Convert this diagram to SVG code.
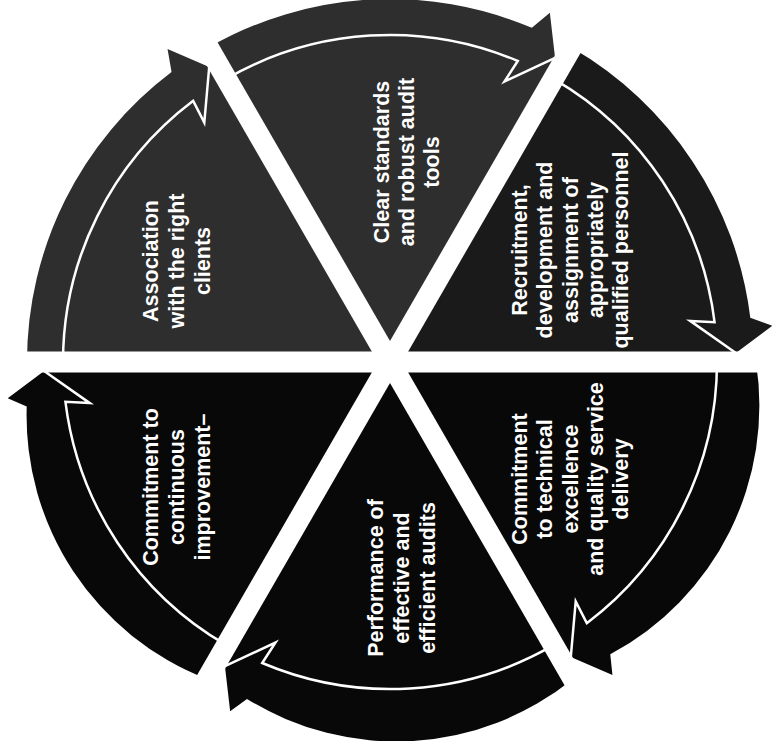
<svg xmlns="http://www.w3.org/2000/svg" width="773" height="741" viewBox="0 0 773 741">
<style>
.up{fill:#2e2e2e}
.mid{fill:#1a1a1a}
.low{fill:#080808}
.edge{fill:none;stroke:#fff;stroke-width:2.5;stroke-linejoin:miter}
.gap{stroke:#fff;stroke-width:21;stroke-linecap:butt}
.lbl{font-family:"Liberation Sans",Arial,sans-serif;font-weight:bold;font-size:21.5px;fill:#fff;text-anchor:middle}
</style>
<defs>
<path id="sil" d="M0,0 L181.5,-314.4 A363,363 0 0 1 360.3,-44.24 L382.3,-36.14 L345.88,-9.06 Z"/>
<path id="silL" d="M0,0 L183,-316.97 A282,282 0 0 1 363.27,-44.6 L382.3,-36.14 L345.88,-9.06 Z"/>
<path id="edge" d="M163.5,-283.19 A327,327 0 0 1 324.56,-39.85 L300.2,-41.12 L345.88,-9.06"/>
</defs>
<rect width="773" height="741" fill="#fff"/>

<g id="node-association">
<g transform="translate(390,362) rotate(-120)"><use href="#sil" class="up"/><use href="#edge" class="edge"/></g>
<text class="lbl" transform="translate(158,261) rotate(-90)"><tspan x="0" y="0">Association</tspan><tspan x="0" y="26">with the right</tspan><tspan x="0" y="52">clients</tspan></text>
</g>

<g id="node-standards">
<g transform="translate(390,362) rotate(-60)"><use href="#sil" class="up"/><use href="#edge" class="edge"/></g>
<text class="lbl" transform="translate(389,162) rotate(-90)"><tspan x="0" y="0">Clear standards</tspan><tspan x="0" y="25">and robust audit</tspan><tspan x="0" y="50">tools</tspan></text>
</g>

<g id="node-recruitment">
<g transform="translate(390,362)"><use href="#sil" class="mid"/><use href="#edge" class="edge"/></g>
<text class="lbl" transform="translate(527,250) rotate(-90)"><tspan x="0" y="0">Recruitment,</tspan><tspan x="0" y="25.3">development and</tspan><tspan x="0" y="50.6">assignment of</tspan><tspan x="0" y="75.9">appropriately</tspan><tspan x="0" y="101.2">qualified personnel</tspan></text>
</g>

<g id="node-technical">
<g transform="translate(390,362) rotate(60)"><use href="#silL" class="low"/><use href="#edge" class="edge"/></g>
<text class="lbl" transform="translate(527,479) rotate(-90)"><tspan x="0" y="0">Commitment</tspan><tspan x="0" y="25.3">to technical</tspan><tspan x="0" y="50.6">excellence</tspan><tspan x="0" y="75.9">and quality service</tspan><tspan x="0" y="101.2">delivery</tspan></text>
</g>

<g id="node-performance">
<g transform="translate(390,362) rotate(120)"><use href="#silL" class="low"/><use href="#edge" class="edge"/></g>
<text class="lbl" transform="translate(383,578) rotate(-90)"><tspan x="0" y="0">Performance of</tspan><tspan x="0" y="26">effective and</tspan><tspan x="0" y="52">efficient audits</tspan></text>
</g>

<g id="node-improvement">
<g transform="translate(390,362) rotate(180)"><use href="#silL" class="low"/><use href="#edge" class="edge"/></g>
<text class="lbl" transform="translate(158,487) rotate(-90)"><tspan x="0" y="0">Commitment to</tspan><tspan x="0" y="26">continuous</tspan><tspan x="0" y="52">improvement–</tspan></text>
</g>

<g id="connectors">
<line class="gap" x1="-20" y1="362" x2="800" y2="362"/>
<line class="gap" x1="180" y1="-1.7" x2="600" y2="725.7"/>
<line class="gap" x1="600" y1="-1.7" x2="180" y2="725.7"/>
</g>
</svg>
